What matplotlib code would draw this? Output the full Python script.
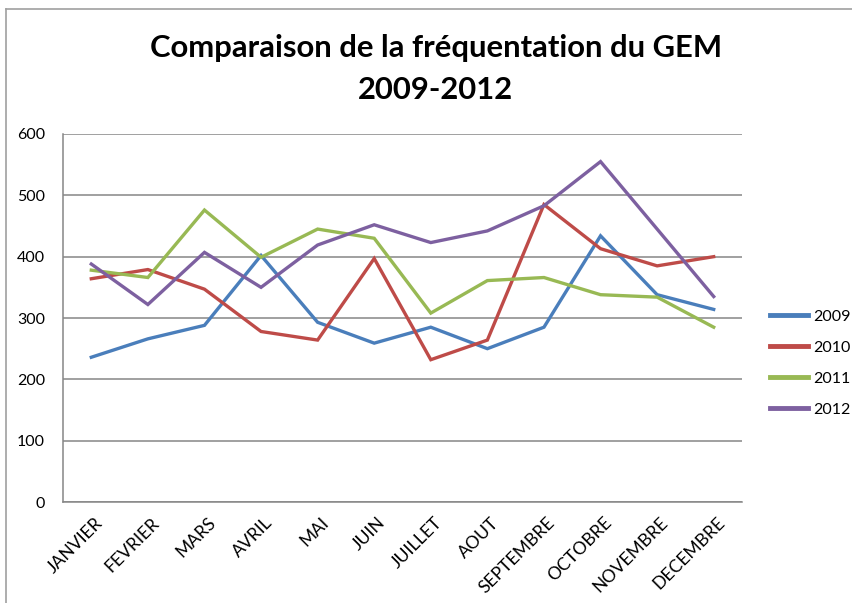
import matplotlib
matplotlib.use("Agg")
import matplotlib.pyplot as plt
import matplotlib.transforms as mtransforms
from matplotlib.lines import Line2D

plt.rcParams["font.family"] = ["Lato", "DejaVu Sans"]

months = ["JANVIER", "FEVRIER", "MARS", "AVRIL", "MAI", "JUIN", "JUILLET",
          "AOUT", "SEPTEMBRE", "OCTOBRE", "NOVEMBRE", "DECEMBRE"]

y2009 = [236, 266, 288, 402, 293, 259, 285, 250, 285, 434, 338, 314]
y2010 = [364, 379, 347, 278, 264, 397, 232, 264, 485, 413, 385, 400]
y2011 = [378, 366, 476, 399, 445, 430, 308, 361, 366, 338, 334, 285]
y2012 = [388, 322, 407, 350, 419, 452, 423, 442, 483, 555, 445, 335]

series = [("2009", y2009, "#4A7EBB"),
          ("2010", y2010, "#BE4B48"),
          ("2011", y2011, "#98B954"),
          ("2012", y2012, "#7D60A0")]

fig = plt.figure(figsize=(8.53, 6.03), dpi=100)
ax = fig.add_axes([63 / 853, 101 / 603, 679 / 853, 368 / 603])

x = list(range(len(months)))
for label, vals, color in series:
    ax.plot(x, vals, color=color, linewidth=2.4, label=label,
            solid_joinstyle="miter")

ax.set_xlim(-0.5, len(months) - 0.5)
ax.set_ylim(0, 600)
ax.set_yticks(range(0, 601, 100))
ax.yaxis.grid(True, color="#868686", linewidth=1.1)
ax.set_axisbelow(True)
for s in ["top", "right"]:
    ax.spines[s].set_visible(False)
for s in ["left", "bottom"]:
    ax.spines[s].set_color("#868686")
    ax.spines[s].set_linewidth(1.1)
ax.tick_params(axis="y", length=0, pad=13, labelsize=11.5)
ax.tick_params(axis="x", length=0, pad=9)
ax.set_xticks(x)
ax.set_xticklabels(months, rotation=45, ha="right", va="top",
                   rotation_mode="anchor", fontsize=12.6)
shift = mtransforms.ScaledTranslation(3 / 100, 0, fig.dpi_scale_trans)
for lbl in ax.get_xticklabels():
    lbl.set_transform(lbl.get_transform() + shift)

fig.text(0.511, 1 - 48 / 603, "Comparaison de la fréquentation du GEM",
         ha="center", va="center", fontsize=22.3, fontweight="bold")
fig.text(0.511, 1 - 90 / 603, "2009-2012",
         ha="center", va="center", fontsize=22.3, fontweight="bold")

handles = [Line2D([], [], color=c, linewidth=3.5) for _, _, c in series]
fig.legend(handles, [s[0] for s in series], loc="center left",
           bbox_to_anchor=(770 / 853, 1 - 363 / 603), frameon=False,
           borderpad=0, borderaxespad=0,
           fontsize=11.5, handlelength=2.4, handletextpad=0.3,
           labelspacing=1.05)

# chart area border (top and left edges visible)
fig.add_artist(Line2D([6 / 853, 1], [1 - 9 / 603, 1 - 9 / 603],
                      color="#a0a0a0", linewidth=1.2, transform=fig.transFigure))
fig.add_artist(Line2D([6 / 853, 6 / 853], [0, 1 - 9 / 603],
                      color="#a0a0a0", linewidth=1.2, transform=fig.transFigure))

fig.savefig("out.png", dpi=100)
